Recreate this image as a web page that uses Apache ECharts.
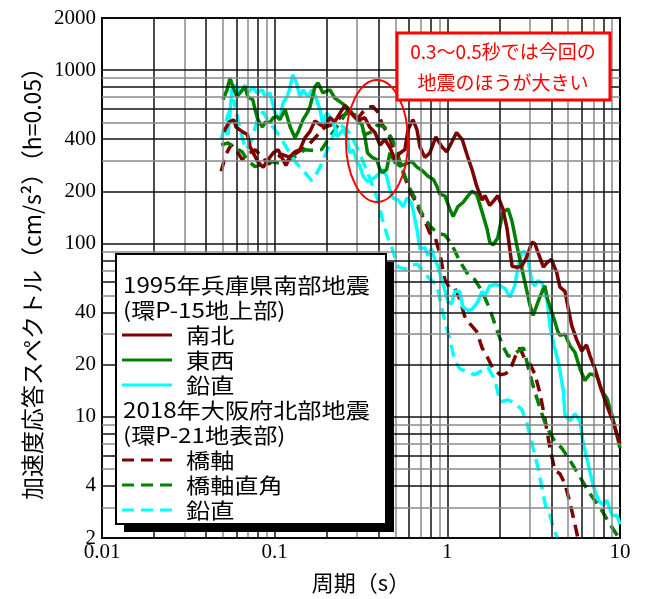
<!DOCTYPE html>
<html>
<head>
<meta charset="utf-8">
<script src="https://cdn.jsdelivr.net/npm/echarts@6/dist/echarts.min.js"></script>
<style>
html,body{margin:0;padding:0;background:#fff;}
#main{width:647px;height:599px;}
</style>
</head>
<body>
<div id="main"></div>
<script>
// 1995年兵庫県南部地震 (環P-15地上部)  [周期(s), 加速度(cm/s2)]
var ns1995 = [[0.0508,442],[0.0543,500],[0.058,518],[0.0597,470],[0.0648,442],[0.0696,425],[0.072,362],[0.077,318],[0.0803,294],[0.0858,275],[0.0917,305],[0.098,333],[0.1047,348],[0.110,314],[0.1162,282],[0.1227,318],[0.131,338],[0.140,348],[0.150,408],[0.160,442],[0.171,510],[0.183,486],[0.195,468],[0.209,532],[0.223,505],[0.239,565],[0.255,626],[0.273,575],[0.292,532],[0.312,518],[0.333,532],[0.356,468],[0.381,437],[0.407,370],[0.435,398],[0.465,358],[0.498,305],[0.532,333],[0.568,348],[0.592,454],[0.632,518],[0.667,454],[0.694,362],[0.741,314],[0.792,333],[0.858,412],[0.929,362],[0.993,338],[1.062,385],[1.13,437],[1.22,398],[1.30,325],[1.39,267],[1.48,214],[1.59,178],[1.65,189],[1.76,166],[1.89,180],[1.96,189],[2.10,158],[2.22,121],[2.30,93],[2.37,74],[2.53,73],[2.70,74],[2.89,84],[3.09,102],[3.21,100],[3.35,89],[3.6,73],[3.8,78],[4.01,81],[4.3,68],[4.49,56],[4.80,53],[5.0,43],[5.26,33.5],[5.6,28],[6.0,24],[6.4,26],[6.7,22.5],[7.16,19],[7.65,15.2],[8.4,11.6],[9.1,9.4],[10,7.0]];
var ew1995 = [[0.0502,676],[0.053,771],[0.0551,900],[0.0574,800],[0.0605,700],[0.063,740],[0.0673,800],[0.070,700],[0.0747,676],[0.077,592],[0.080,518],[0.085,470],[0.088,500],[0.094,500],[0.098,532],[0.103,540],[0.107,518],[0.115,592],[0.123,470],[0.131,408],[0.137,442],[0.146,518],[0.154,565],[0.160,613],[0.171,800],[0.178,846],[0.190,740],[0.209,771],[0.223,690],[0.245,645],[0.262,613],[0.282,565],[0.30,518],[0.32,486],[0.333,413],[0.345,333],[0.367,314],[0.39,305],[0.407,267],[0.42,257],[0.445,267],[0.465,333],[0.498,294],[0.532,280],[0.568,287],[0.62,298],[0.667,276],[0.72,262],[0.77,245],[0.83,234],[0.87,214],[0.905,192],[0.967,189],[1.034,158],[1.08,143],[1.15,163],[1.23,172],[1.32,189],[1.39,200],[1.48,192],[1.59,152],[1.70,121],[1.76,102],[1.84,98],[1.96,108],[2.10,152],[2.25,158],[2.37,134],[2.53,97],[2.63,81],[2.81,60],[3.01,44],[3.14,38.5],[3.35,46],[3.6,55],[3.67,57],[3.8,48],[4.14,37],[4.37,31],[4.49,29.5],[4.8,30],[5.13,25.7],[5.48,23.6],[5.86,19],[6.26,16.2],[6.7,17.7],[7.35,17.2],[7.85,14.1],[8.4,12.8],[9.0,10.2],[10,6.6]];
var ud1995 = [[0.0502,467],[0.0537,425],[0.0565,771],[0.0597,820],[0.063,740],[0.0673,820],[0.070,740],[0.0747,795],[0.079,740],[0.085,771],[0.088,700],[0.094,740],[0.1005,565],[0.107,518],[0.112,650],[0.118,700],[0.123,800],[0.127,940],[0.134,846],[0.140,700],[0.146,771],[0.156,700],[0.164,771],[0.171,720],[0.183,592],[0.19,486],[0.20,565],[0.209,540],[0.223,470],[0.23,413],[0.249,454],[0.262,413],[0.273,333],[0.285,348],[0.30,294],[0.312,280],[0.325,245],[0.345,228],[0.356,234],[0.381,240],[0.407,257],[0.42,267],[0.445,245],[0.465,203],[0.485,183],[0.52,178],[0.555,163],[0.585,183],[0.62,172],[0.667,121],[0.694,93],[0.741,95],[0.77,85],[0.81,93],[0.847,81],[0.88,74],[0.93,62],[1.01,46],[1.06,45],[1.105,53],[1.18,53],[1.23,43],[1.32,41],[1.40,42],[1.50,46],[1.59,53],[1.65,50],[1.76,57],[1.89,58],[2.02,57],[2.16,55],[2.30,49],[2.46,57],[2.57,74],[2.70,89],[2.81,90],[2.95,78],[3.09,60],[3.21,57],[3.35,61],[3.55,59],[3.8,46],[3.93,33.5],[4.14,26],[4.43,20],[4.7,14.1],[4.8,10.2],[5.13,9.5],[5.48,10.4],[5.86,9.5],[6.1,7.2],[6.5,5.5],[7.0,4.0],[7.5,3.3],[8.0,3.1],[8.4,3.3],[9.0,2.7],[9.6,2.7],[10,2.4]];

// 2018年大阪府北部地震 (環P-21地表部)
var br2018 = [[0.049,261],[0.0522,327],[0.0559,371],[0.0597,348],[0.0648,305],[0.070,327],[0.077,348],[0.085,314],[0.092,287],[0.1005,305],[0.110,327],[0.123,314],[0.137,338],[0.150,356],[0.164,388],[0.178,425],[0.195,468],[0.215,486],[0.239,532],[0.262,565],[0.282,545],[0.305,532],[0.325,575],[0.345,608],[0.37,618],[0.395,575],[0.42,486],[0.455,425],[0.48,371],[0.52,305],[0.568,240],[0.607,200],[0.649,178],[0.694,153],[0.741,135],[0.792,115],[0.847,110],[0.905,87],[0.967,62],[1.034,55],[1.105,55],[1.18,48],[1.26,38],[1.35,34.5],[1.48,31],[1.59,25],[1.70,22.2],[1.84,19],[2.02,17.5],[2.16,17.7],[2.30,18.5],[2.49,22.6],[2.63,25],[2.81,21.6],[3.01,20.2],[3.21,17.7],[3.44,13.7],[3.67,9.8],[3.93,6.6],[4.2,4.9],[4.49,4.7],[4.8,4.1],[5.13,3.2],[5.48,2.4],[5.7,2.0]];
var tr2018 = [[0.049,371],[0.0537,380],[0.0589,358],[0.0648,338],[0.070,300],[0.077,278],[0.085,287],[0.092,300],[0.1005,294],[0.110,290],[0.123,305],[0.137,327],[0.150,348],[0.171,343],[0.187,348],[0.204,398],[0.223,454],[0.245,518],[0.266,592],[0.285,575],[0.305,505],[0.333,425],[0.367,442],[0.395,486],[0.435,468],[0.48,398],[0.51,338],[0.55,267],[0.596,214],[0.649,183],[0.71,150],[0.792,126],[0.88,115],[0.967,112],[1.06,99],[1.18,79],[1.32,66],[1.44,62],[1.59,53],[1.76,42],[1.93,32],[2.10,25.5],[2.25,22.4],[2.43,22.6],[2.57,24],[2.76,25],[2.95,19],[3.17,14.6],[3.44,11.2],[3.75,8.8],[4.2,7.2],[4.6,6.6],[5.13,5.6],[5.86,4.5],[6.7,3.6],[7.65,3.0],[8.75,2.4],[9.7,2.05]];
var ud2018 = [[0.049,398],[0.053,532],[0.058,676],[0.0597,583],[0.063,454],[0.068,348],[0.074,398],[0.080,532],[0.0858,575],[0.092,505],[0.1005,454],[0.110,398],[0.119,348],[0.129,305],[0.140,275],[0.152,252],[0.164,230],[0.178,261],[0.19,298],[0.204,358],[0.22,425],[0.239,486],[0.262,454],[0.285,398],[0.312,327],[0.34,267],[0.367,219],[0.395,180],[0.42,138],[0.455,106],[0.48,93],[0.52,73],[0.568,71],[0.607,75],[0.67,76],[0.741,67],[0.81,61],[0.87,58],[0.905,48],[0.967,36],[1.034,28],[1.105,21],[1.18,19],[1.30,18.2],[1.44,17.5],[1.59,18.5],[1.72,19.4],[1.89,16.2],[2.02,12.2],[2.25,12.5],[2.46,12.0],[2.70,11.0],[2.89,9.2],[3.14,6.6],[3.35,5.1],[3.55,3.8],[3.75,2.9],[3.93,2.7],[4.2,2.15],[4.35,2.0]];

var yLabels = [2, 4, 10, 20, 40, 100, 200, 400, 1000, 2000];
var legendNames = ['1995年兵庫県南部地震', '(環P-15地上部)', '南北', '東西', '鉛直',
                   '2018年大阪府北部地震', '(環P-21地表部)', '橋軸', '橋軸直角', '鉛直'];
var noteLines = ['0.3〜0.5秒では今回の', '地震のほうが大きい'];

var RED = '#800000', GREEN = '#008000', CYAN = '#00ffff';
var SERIF = 'Liberation Serif';
var JP = 'Noto Sans CJK JP';

// 対数グリッド (1〜9 × 10^n)
function gridStyle(v) {
  var m = Math.round(v / Math.pow(10, Math.floor(Math.log10(v) + 1e-9)));
  var dark = (m % 2 === 0 || m === 1);
  return { color: dark ? '#111' : '#8a8a8a', width: 1.5, type: 'solid' };
}
var gridMarks = [];
[0.01, 0.1, 1].forEach(function (d) {
  for (var k = 1; k < 10; k++) gridMarks.push({ xAxis: +(d * k).toPrecision(3), lineStyle: gridStyle(d * k), label: { show: false } });
});
[1, 10, 100, 1000].forEach(function (d) {
  for (var k = 1; k < 10; k++) {
    var v = d * k;
    if (v < 2 || v > 2000) continue;
    var lab = yLabels.indexOf(v) >= 0;
    gridMarks.push({
      yAxis: v, lineStyle: gridStyle(v),
      label: { show: lab, position: 'start', formatter: String(v), distance: 6,
               fontFamily: SERIF, fontSize: 21, color: '#000' }
    });
  }
});

function mkLine(name, data, color, dashed) {
  return {
    name: name, type: 'line', data: data, showSymbol: false, symbol: 'none',
    z: 3, silent: true,
    lineStyle: { color: color, width: 3.5, type: dashed ? [12, 7] : 'solid' }
  };
}

// 凡例 (graphic)
var LZ = 200;
var legendEls = [
  { type: 'rect', z: LZ, shape: { x: 124, y: 262, width: 270, height: 270 }, style: { fill: '#000' } },
  { type: 'rect', z: LZ + 1, shape: { x: 116, y: 254, width: 270, height: 270 }, style: { fill: '#fff', stroke: '#000', lineWidth: 2 } }
];
var rowInfo = [null, null, [RED, false], [GREEN, false], [CYAN, false], null, null, [RED, true], [GREEN, true], [CYAN, true]];
legendNames.forEach(function (t, i) {
  var y = 285 + i * 25;
  var info = rowInfo[i];
  if (info) {
    legendEls.push({ type: 'line', z: LZ + 2, shape: { x1: 122, y1: y, x2: 172, y2: y },
      style: { stroke: info[0], lineWidth: 3, lineDash: info[1] ? [12, 7] : null } });
  }
  legendEls.push({ type: 'text', z: LZ + 2, x: info ? 186 : 123, y: y, scaleX: 1.15,
    style: { text: t, fontFamily: JP, fontSize: 21, fill: '#000', verticalAlign: 'middle' } });
});

var noteEls = [
  { type: 'ellipse', z: LZ, shape: { cx: 377, cy: 141, rx: 31, ry: 61 }, style: { fill: 'none', stroke: '#ff0000', lineWidth: 2 } },
  { type: 'rect', z: LZ, shape: { x: 397, y: 33, width: 213, height: 67 }, style: { fill: '#fff', stroke: '#ff0000', lineWidth: 3 } },
  { type: 'text', z: LZ + 1, x: 503, y: 52, style: { text: noteLines[0], fontFamily: JP, fontSize: 19, fill: '#ff0000', align: 'center', verticalAlign: 'middle' } },
  { type: 'text', z: LZ + 1, x: 503, y: 83, style: { text: noteLines[1], fontFamily: JP, fontSize: 19, fill: '#ff0000', align: 'center', verticalAlign: 'middle' } }
];

var chart = echarts.init(document.getElementById('main'), null, { renderer: 'canvas' });
chart.setOption({
  animation: false,
  backgroundColor: '#fff',
  grid: { left: 102, right: 27, top: 18, bottom: 59, show: true, borderColor: '#000', borderWidth: 2, backgroundColor: '#fff' },
  xAxis: {
    type: 'log', logBase: 10, min: 0.01, max: 10,
    name: '周期（s）', nameLocation: 'middle', nameGap: 34,
    nameTextStyle: { fontFamily: JP, fontSize: 22, color: '#000' },
    axisLine: { show: true, lineStyle: { color: '#000', width: 2 } },
    axisTick: { show: false },
    axisLabel: { fontFamily: SERIF, fontSize: 21, color: '#000', margin: 4 },
    splitLine: { show: false }
  },
  yAxis: {
    type: 'log', logBase: 10, min: 2, max: 2000,
    name: '加速度応答スペクトル（cm/s²）（h=0.05）', nameLocation: 'middle', nameRotate: 90, nameGap: 58,
    nameTextStyle: { fontFamily: JP, fontSize: 23, color: '#000' },
    axisLine: { show: true, lineStyle: { color: '#000', width: 2 } },
    axisTick: { show: false },
    axisLabel: { show: false },
    splitLine: { show: false }
  },
  series: [
    { name: 'grid', type: 'line', data: [[0.01, 2]], showSymbol: false, z: 1, silent: true,
      lineStyle: { width: 0 },
      markLine: { silent: true, symbol: ['none', 'none'], animation: false, data: gridMarks } },
    mkLine('橋軸', br2018, RED, true),
    mkLine('橋軸直角', tr2018, GREEN, true),
    mkLine('鉛直2018', ud2018, CYAN, true),
    mkLine('鉛直1995', ud1995, CYAN, false),
    mkLine('東西', ew1995, GREEN, false),
    mkLine('南北', ns1995, RED, false)
  ],
  graphic: { elements: noteEls.concat(legendEls) }
});
</script>
</body>
</html>
